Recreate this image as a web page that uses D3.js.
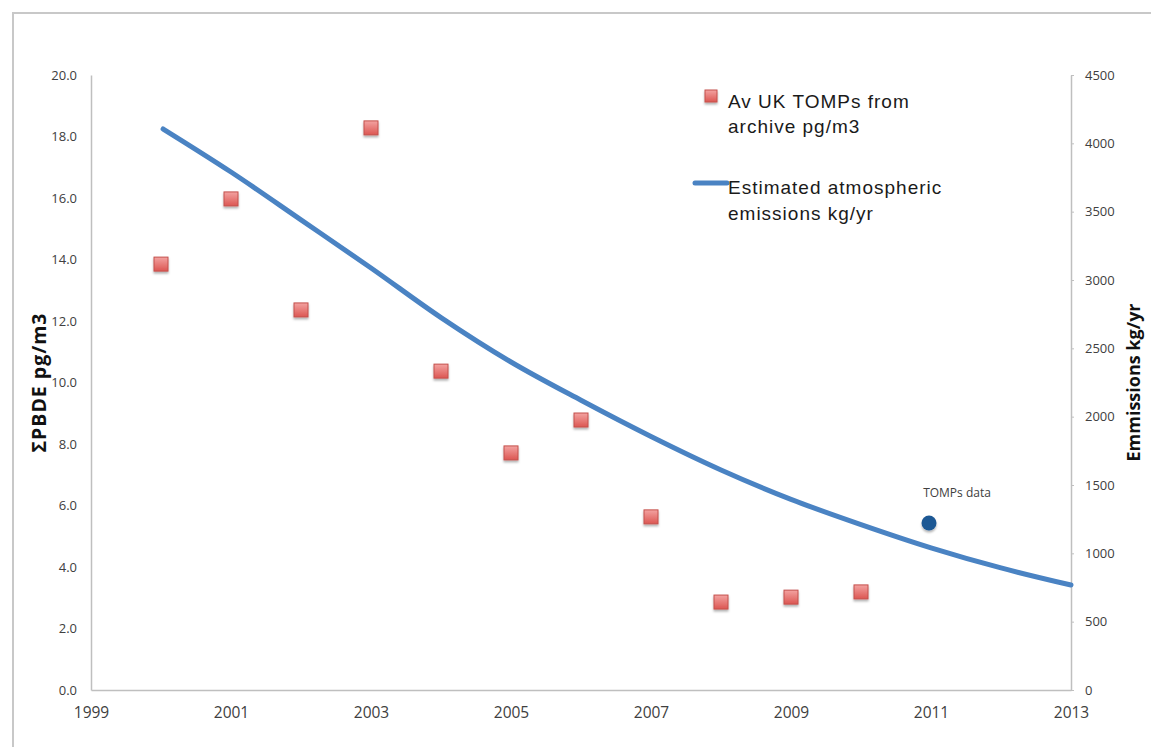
<!DOCTYPE html>
<html>
<head>
<meta charset="utf-8">
<script src="https://cdn.jsdelivr.net/npm/d3@7"></script>
<style>
  html, body { margin: 0; padding: 0; background: #fff; }
  svg { display: block; }
</style>
</head>
<body>
<script>
// Average UK TOMPs archive concentrations (pg/m3)
const archiveYears = [2000, 2001, 2002, 2003, 2004, 2005, 2006, 2007, 2008, 2009, 2010];
const archiveValues = [13.85, 15.97, 12.36, 18.28, 10.37, 7.71, 8.78, 5.63, 2.86, 3.02, 3.19];

// TOMPs network measurement
const tompsYear = [2011];
const tompsValue = [5.43];

// Estimated atmospheric emissions (kg/yr)
const emissionYears = [2000.03, 2001, 2002, 2003, 2004, 2005, 2006, 2007, 2008, 2009, 2010, 2011, 2012, 2013];
const emissionValues = [4105, 3790, 3440, 3088, 2725, 2400, 2120, 1855, 1610, 1395, 1210, 1040, 893, 768];

// Axis ticks
const yearTicks = [1999, 2001, 2003, 2005, 2007, 2009, 2011, 2013];
const leftTicks = [0, 2, 4, 6, 8, 10, 12, 14, 16, 18, 20];
const rightTicks = [0, 500, 1000, 1500, 2000, 2500, 3000, 3500, 4000, 4500];

const W = 1151, H = 747;
const plot = { left: 91, right: 1071, top: 75, bottom: 690 };

const svg = d3.select("body").append("svg").attr("width", W).attr("height", H);

const defs = svg.append("defs");
const grad = defs.append("linearGradient").attr("id", "sqFill")
  .attr("x1", 0).attr("y1", 0).attr("x2", 0).attr("y2", 1);
grad.append("stop").attr("offset", "0%").attr("stop-color", "#f3a3a1");
grad.append("stop").attr("offset", "100%").attr("stop-color", "#dc5652");
const shadow = defs.append("filter").attr("id", "shadow")
  .attr("x", "-50%").attr("y", "-50%").attr("width", "200%").attr("height", "200%");
shadow.append("feDropShadow").attr("dx", 0).attr("dy", 2).attr("stdDeviation", 1.2)
  .attr("flood-color", "#000").attr("flood-opacity", 0.3);

// Outer frame (top and left edges visible)
svg.append("path")
  .attr("d", `M13,${H} L13,13 L${W},13`)
  .attr("fill", "none").attr("stroke", "#c8c8c8").attr("stroke-width", 2);

const x = d3.scaleLinear().domain([1999, 2013]).range([plot.left, plot.right]);
const yL = d3.scaleLinear().domain([0, 20]).range([plot.bottom, plot.top]);
const yR = d3.scaleLinear().domain([0, 4500]).range([plot.bottom, plot.top]);

const tickFont = "'Open Sans', 'Noto Sans', sans-serif";

// Left axis
const gL = svg.append("g").attr("transform", `translate(${plot.left},0)`)
  .call(d3.axisLeft(yL).tickValues(leftTicks).tickSize(0).tickPadding(14).tickFormat(d3.format(".1f")));
gL.select(".domain").attr("stroke", "#bfbfbf").attr("stroke-width", 1.5);
gL.selectAll("text").attr("font-family", tickFont).attr("font-size", 13).attr("fill", "#404040");

// Right axis
const gR = svg.append("g").attr("transform", `translate(${plot.right},0)`)
  .call(d3.axisRight(yR).tickValues(rightTicks).tickSize(0).tickPadding(14).tickFormat(d3.format("d")));
gR.select(".domain").attr("stroke", "#bfbfbf").attr("stroke-width", 1.5);
gR.selectAll("text").attr("font-family", tickFont).attr("font-size", 13).attr("fill", "#404040");
gR.selectAll(".tick").append("line")
  .attr("x1", 0).attr("x2", 3).attr("stroke", "#bfbfbf").attr("stroke-width", 1);

// Bottom axis
const gB = svg.append("g").attr("transform", `translate(0,${plot.bottom})`)
  .call(d3.axisBottom(x).tickValues(yearTicks).tickSize(0).tickPadding(17).tickFormat(d3.format("d")));
gB.select(".domain").attr("stroke", "#bfbfbf").attr("stroke-width", 1.5);
gB.selectAll("text").attr("font-family", tickFont).attr("font-size", 15.5).attr("fill", "#404040");

// Axis titles
svg.append("text")
  .attr("transform", `translate(46,${(plot.top + plot.bottom) / 2}) rotate(-90)`)
  .attr("text-anchor", "middle")
  .attr("font-family", tickFont).attr("font-weight", "bold").attr("font-size", 19.5)
  .attr("letter-spacing", 1).attr("fill", "#111")
  .text("ΣPBDE pg/m3");
svg.append("text")
  .attr("transform", `translate(1140,${(plot.top + plot.bottom) / 2}) rotate(-90)`)
  .attr("text-anchor", "middle")
  .attr("font-family", tickFont).attr("font-weight", "bold").attr("font-size", 18)
  .attr("fill", "#111")
  .text("Emmissions kg/yr");

// Emissions line
const line = d3.line().x(d => x(d[0])).y(d => yR(d[1])).curve(d3.curveMonotoneX);
svg.append("path")
  .datum(emissionYears.map((yr, i) => [yr, emissionValues[i]]))
  .attr("d", line)
  .attr("fill", "none").attr("stroke", "#4a83c3").attr("stroke-width", 5)
  .attr("stroke-linecap", "round").attr("stroke-linejoin", "round");

// Archive squares
const sq = 14;
svg.append("g").selectAll("rect")
  .data(archiveYears.map((yr, i) => [yr, archiveValues[i]]))
  .join("rect")
  .attr("x", d => x(d[0]) - sq / 2).attr("y", d => yL(d[1]) - sq / 2)
  .attr("width", sq).attr("height", sq)
  .attr("fill", "url(#sqFill)").attr("stroke", "#c4504c").attr("stroke-width", 1)
  .attr("filter", "url(#shadow)");

// TOMPs data point
svg.append("g").selectAll("circle")
  .data(tompsYear.map((yr, i) => [yr, tompsValue[i]]))
  .join("circle")
  .attr("cx", d => x(d[0]) - 2).attr("cy", d => yL(d[1]))
  .attr("r", 7.5).attr("fill", "#1f5894")
  .attr("filter", "url(#shadow)");
svg.append("text")
  .attr("x", x(tompsYear[0]) + 26).attr("y", yL(tompsValue[0]) - 26)
  .attr("text-anchor", "middle")
  .attr("font-family", tickFont).attr("font-size", 12).attr("fill", "#404040")
  .text("TOMPs data");

// Legend
const legFont = "'Liberation Sans', Arial, sans-serif";
const leg = svg.append("g")
  .attr("font-family", legFont).attr("font-size", 19).attr("letter-spacing", 1).attr("fill", "#1a1a1a");
leg.append("rect").attr("x", 705).attr("y", 90).attr("width", 12).attr("height", 12)
  .attr("fill", "url(#sqFill)").attr("stroke", "#c4504c").attr("stroke-width", 1)
  .attr("filter", "url(#shadow)");
leg.append("text").attr("x", 728).attr("y", 108).text("Av UK TOMPs from");
leg.append("text").attr("x", 728).attr("y", 133).text("archive pg/m3");
leg.append("line").attr("x1", 695).attr("x2", 727).attr("y1", 183).attr("y2", 183)
  .attr("stroke", "#4a83c3").attr("stroke-width", 5).attr("stroke-linecap", "round");
leg.append("text").attr("x", 728).attr("y", 194).text("Estimated atmospheric");
leg.append("text").attr("x", 728).attr("y", 220).text("emissions kg/yr");
</script>
</body>
</html>
